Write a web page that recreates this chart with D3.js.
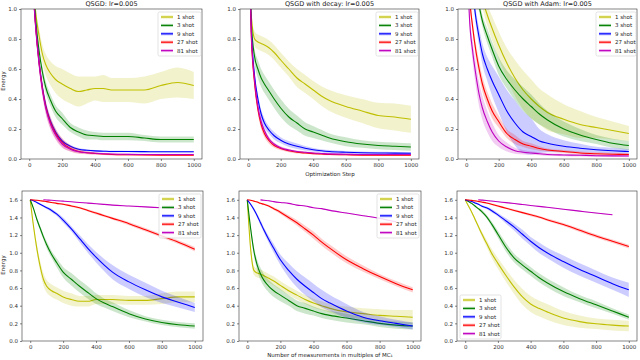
<!DOCTYPE html>
<html>
<head>
<meta charset="utf-8">
<script src="https://cdn.jsdelivr.net/npm/d3@7"></script>
<style>
  body { margin: 0; background: #fff; }
  svg { display: block; font-family: "DejaVu Sans", sans-serif; }
</style>
</head>
<body>
<svg id="chart" width="640" height="360"></svg>
<script>
// Shared x grid (optimization step / measurements)
var steps = [0, 20, 40, 60, 80, 100, 130, 160, 200, 250, 300, 350, 400, 450, 500, 600, 700, 800, 900, 1000]
var shotLabels = ['1 shot', '3 shot', '9 shot', '27 shot', '81 shot']
var shotColors = ['#bfbf00', '#008000', '#0000ff', '#ff0000', '#bf00bf']
var xTicks = [0, 200, 400, 600, 800, 1000]
var topYTicks = [0, 0.2, 0.4, 0.6, 0.8, 1.0]
var bottomYTicks = [0, 0.2, 0.4, 0.6, 0.8, 1.0, 1.2, 1.4, 1.6]
var titles = ['QSGD: lr=0.005', 'QSGD with decay: lr=0.005', 'QSGD with Adam: lr=0.005']

// Top row: energy vs optimization step (mean, half-width of band)
var qsgdStepMean = [
  [1.6, 1.25, 0.97, 0.82, 0.7, 0.63, 0.57, 0.53, 0.5, 0.47, 0.45, 0.46, 0.47, 0.47, 0.46, 0.46, 0.46, 0.49, 0.51, 0.49],
  [1.6, 1.22, 0.92, 0.72, 0.58, 0.48, 0.39, 0.32, 0.27, 0.21, 0.18, 0.16, 0.155, 0.15, 0.15, 0.15, 0.14, 0.13, 0.13, 0.13],
  [1.6, 1.2, 0.88, 0.65, 0.48, 0.36, 0.25, 0.18, 0.12, 0.085, 0.065, 0.058, 0.054, 0.052, 0.05, 0.05, 0.049, 0.048, 0.048, 0.048],
  [1.6, 1.2, 0.87, 0.64, 0.47, 0.35, 0.24, 0.17, 0.11, 0.07, 0.05, 0.042, 0.037, 0.033, 0.03, 0.028, 0.027, 0.026, 0.025, 0.025],
  [1.6, 1.19, 0.86, 0.63, 0.46, 0.34, 0.23, 0.16, 0.1, 0.065, 0.048, 0.042, 0.038, 0.035, 0.033, 0.031, 0.03, 0.03, 0.03, 0.03]
]
var qsgdStepSpread = [
  [0, 0.02, 0.03, 0.05, 0.06, 0.07, 0.08, 0.09, 0.1, 0.1, 0.1, 0.09, 0.08, 0.09, 0.08, 0.08, 0.09, 0.09, 0.1, 0.09],
  [0, 0.01, 0.02, 0.03, 0.04, 0.04, 0.04, 0.04, 0.04, 0.03, 0.03, 0.03, 0.025, 0.025, 0.025, 0.025, 0.02, 0.02, 0.02, 0.02],
  [0, 0.01, 0.02, 0.03, 0.03, 0.03, 0.025, 0.02, 0.015, 0.01, 0.008, 0.007, 0.006, 0.006, 0.006, 0.005, 0.005, 0.005, 0.005, 0.005],
  [0, 0.02, 0.03, 0.04, 0.04, 0.04, 0.04, 0.035, 0.03, 0.02, 0.015, 0.01, 0.008, 0.007, 0.006, 0.006, 0.005, 0.005, 0.005, 0.005],
  [0, 0.02, 0.03, 0.04, 0.04, 0.04, 0.035, 0.03, 0.025, 0.015, 0.01, 0.008, 0.007, 0.006, 0.006, 0.005, 0.005, 0.005, 0.005, 0.005]
]
var decayStepMean = [
  [1.6, 0.95, 0.8, 0.78, 0.77, 0.76, 0.74, 0.71, 0.66, 0.6, 0.54, 0.5, 0.46, 0.42, 0.39, 0.35, 0.32, 0.29, 0.28, 0.265],
  [1.6, 0.9, 0.68, 0.6, 0.54, 0.5, 0.45, 0.4, 0.34, 0.28, 0.24, 0.2, 0.18, 0.16, 0.14, 0.115, 0.1, 0.09, 0.085, 0.08],
  [1.6, 0.85, 0.55, 0.4, 0.3, 0.24, 0.19, 0.155, 0.125, 0.1, 0.085, 0.072, 0.062, 0.055, 0.05, 0.045, 0.042, 0.04, 0.039, 0.038],
  [1.6, 0.8, 0.5, 0.33, 0.23, 0.17, 0.12, 0.09, 0.07, 0.055, 0.045, 0.04, 0.036, 0.033, 0.03, 0.028, 0.026, 0.025, 0.025, 0.025],
  [1.6, 0.82, 0.52, 0.35, 0.25, 0.19, 0.13, 0.1, 0.075, 0.06, 0.05, 0.045, 0.04, 0.037, 0.034, 0.032, 0.03, 0.03, 0.03, 0.03]
]
var decayStepSpread = [
  [0, 0.03, 0.05, 0.05, 0.05, 0.05, 0.05, 0.05, 0.05, 0.05, 0.06, 0.06, 0.06, 0.065, 0.07, 0.075, 0.08, 0.085, 0.09, 0.09],
  [0, 0.03, 0.05, 0.06, 0.06, 0.06, 0.06, 0.06, 0.06, 0.055, 0.05, 0.045, 0.04, 0.035, 0.03, 0.03, 0.025, 0.025, 0.025, 0.025],
  [0, 0.03, 0.03, 0.03, 0.03, 0.03, 0.025, 0.025, 0.02, 0.02, 0.018, 0.015, 0.012, 0.01, 0.01, 0.008, 0.008, 0.008, 0.008, 0.008],
  [0, 0.03, 0.03, 0.03, 0.03, 0.025, 0.02, 0.015, 0.012, 0.01, 0.008, 0.007, 0.006, 0.006, 0.005, 0.005, 0.005, 0.005, 0.005, 0.005],
  [0, 0.03, 0.03, 0.03, 0.025, 0.02, 0.015, 0.012, 0.01, 0.008, 0.007, 0.006, 0.006, 0.005, 0.005, 0.005, 0.005, 0.005, 0.005, 0.005]
]
var adamStepMean = [
  [1.6, 1.5, 1.4, 1.29, 1.18, 1.07, 0.96, 0.87, 0.76, 0.64, 0.54, 0.46, 0.4, 0.35, 0.31, 0.265, 0.23, 0.21, 0.19, 0.17],
  [1.6, 1.43, 1.28, 1.14, 1.02, 0.92, 0.82, 0.73, 0.62, 0.53, 0.46, 0.4, 0.35, 0.3, 0.26, 0.2, 0.16, 0.13, 0.105, 0.09],
  [1.6, 1.35, 1.12, 0.94, 0.81, 0.7, 0.6, 0.52, 0.43, 0.32, 0.24, 0.18, 0.15, 0.12, 0.105, 0.085, 0.072, 0.062, 0.055, 0.05],
  [1.6, 1.1, 0.88, 0.72, 0.6, 0.5, 0.4, 0.32, 0.25, 0.17, 0.13, 0.1, 0.085, 0.07, 0.06, 0.05, 0.04, 0.035, 0.032, 0.03],
  [1.6, 0.95, 0.72, 0.56, 0.43, 0.34, 0.25, 0.18, 0.12, 0.08, 0.055, 0.045, 0.04, 0.035, 0.03, 0.027, 0.025, 0.022, 0.021, 0.02]
]
var adamStepSpread = [
  [0, 0.02, 0.03, 0.04, 0.05, 0.06, 0.07, 0.08, 0.09, 0.1, 0.12, 0.13, 0.13, 0.12, 0.12, 0.1, 0.09, 0.07, 0.06, 0.05],
  [0, 0.02, 0.03, 0.04, 0.04, 0.04, 0.05, 0.05, 0.06, 0.06, 0.07, 0.08, 0.08, 0.07, 0.06, 0.05, 0.04, 0.03, 0.03, 0.03],
  [0, 0.03, 0.04, 0.05, 0.06, 0.07, 0.08, 0.1, 0.12, 0.14, 0.15, 0.14, 0.12, 0.08, 0.06, 0.04, 0.03, 0.02, 0.02, 0.015],
  [0, 0.03, 0.04, 0.05, 0.05, 0.05, 0.05, 0.05, 0.04, 0.03, 0.03, 0.02, 0.02, 0.015, 0.01, 0.01, 0.01, 0.01, 0.01, 0.01],
  [0, 0.05, 0.07, 0.08, 0.08, 0.08, 0.07, 0.06, 0.04, 0.03, 0.02, 0.015, 0.012, 0.01, 0.01, 0.008, 0.008, 0.008, 0.008, 0.008]
]

// Bottom row: energy vs number of measurements (multiples of MC1)
var qsgdMeasMean = [
  [1.6, 1.3, 1.05, 0.85, 0.7, 0.62, 0.57, 0.54, 0.5, 0.47, 0.45, 0.45, 0.47, 0.47, 0.47, 0.46, 0.46, 0.48, 0.5, 0.5],
  [1.6, 1.5, 1.38, 1.28, 1.18, 1.09, 0.98, 0.89, 0.78, 0.7, 0.62, 0.55, 0.48, 0.43, 0.39, 0.31, 0.25, 0.21, 0.185, 0.17],
  [1.6, 1.59, 1.57, 1.55, 1.53, 1.51, 1.48, 1.44, 1.37, 1.27, 1.16, 1.05, 0.95, 0.86, 0.78, 0.67, 0.58, 0.5, 0.44, 0.38],
  [1.6, 1.598, 1.595, 1.59, 1.585, 1.58, 1.57, 1.56, 1.55, 1.53, 1.51, 1.48, 1.45, 1.42, 1.39, 1.33, 1.26, 1.19, 1.12, 1.04],
  [null, null, null, null, 1.6, 1.598, 1.595, 1.59, 1.585, 1.578, 1.57, 1.563, 1.556, 1.548, 1.54, 1.53, 1.52, 1.51, 1.5, null]
]
var qsgdMeasSpread = [
  [0, 0.03, 0.05, 0.06, 0.07, 0.07, 0.07, 0.07, 0.07, 0.07, 0.06, 0.06, 0.05, 0.05, 0.05, 0.05, 0.05, 0.06, 0.06, 0.06],
  [0, 0.01, 0.02, 0.03, 0.03, 0.04, 0.04, 0.05, 0.06, 0.07, 0.07, 0.07, 0.06, 0.05, 0.05, 0.04, 0.03, 0.03, 0.03, 0.03],
  [0, 0.005, 0.01, 0.01, 0.01, 0.015, 0.02, 0.02, 0.03, 0.03, 0.04, 0.05, 0.06, 0.07, 0.08, 0.08, 0.08, 0.07, 0.06, 0.05],
  [0, 0.005, 0.005, 0.005, 0.005, 0.008, 0.008, 0.01, 0.01, 0.01, 0.012, 0.012, 0.015, 0.015, 0.015, 0.018, 0.02, 0.02, 0.022, 0.025],
  [0, 0, 0, 0, 0.004, 0.004, 0.004, 0.004, 0.004, 0.004, 0.004, 0.004, 0.004, 0.004, 0.004, 0.004, 0.004, 0.004, 0.004, 0]
]
var decayMeasMean = [
  [1.6, 1.05, 0.8, 0.77, 0.76, 0.74, 0.71, 0.68, 0.63, 0.57, 0.52, 0.47, 0.43, 0.4, 0.37, 0.33, 0.31, 0.29, 0.28, 0.27],
  [1.6, 1.28, 1.02, 0.86, 0.76, 0.69, 0.62, 0.57, 0.52, 0.46, 0.4, 0.37, 0.34, 0.31, 0.29, 0.26, 0.23, 0.2, 0.18, 0.17],
  [1.6, 1.55, 1.49, 1.42, 1.34, 1.26, 1.15, 1.05, 0.92, 0.8, 0.7, 0.62, 0.55, 0.48, 0.43, 0.34, 0.27, 0.23, 0.2, 0.17],
  [1.6, 1.595, 1.585, 1.575, 1.56, 1.55, 1.53, 1.5, 1.46, 1.4, 1.34, 1.27, 1.2, 1.12, 1.05, 0.92, 0.82, 0.73, 0.65, 0.58],
  [null, null, null, null, 1.6, 1.595, 1.59, 1.58, 1.57, 1.56, 1.54, 1.53, 1.51, 1.5, 1.48, 1.45, 1.42, 1.39, 1.35, null]
]
var decayMeasSpread = [
  [0, 0.04, 0.05, 0.05, 0.05, 0.05, 0.05, 0.05, 0.05, 0.05, 0.05, 0.05, 0.05, 0.05, 0.05, 0.06, 0.06, 0.07, 0.07, 0.08],
  [0, 0.03, 0.05, 0.06, 0.07, 0.07, 0.07, 0.07, 0.07, 0.06, 0.06, 0.06, 0.05, 0.05, 0.05, 0.05, 0.04, 0.04, 0.04, 0.04],
  [0, 0.01, 0.02, 0.02, 0.03, 0.03, 0.04, 0.05, 0.06, 0.08, 0.09, 0.1, 0.1, 0.1, 0.09, 0.08, 0.06, 0.05, 0.04, 0.04],
  [0, 0.005, 0.005, 0.008, 0.01, 0.01, 0.012, 0.015, 0.02, 0.025, 0.03, 0.035, 0.04, 0.04, 0.04, 0.04, 0.035, 0.03, 0.03, 0.03],
  [0, 0, 0, 0, 0.004, 0.004, 0.004, 0.004, 0.004, 0.004, 0.004, 0.004, 0.004, 0.004, 0.004, 0.004, 0.004, 0.004, 0.004, 0]
]
var adamMeasMean = [
  [1.6, 1.53, 1.46, 1.38, 1.3, 1.22, 1.11, 1.0, 0.88, 0.74, 0.61, 0.5, 0.42, 0.37, 0.33, 0.26, 0.22, 0.195, 0.18, 0.17],
  [1.6, 1.58, 1.56, 1.53, 1.5, 1.47, 1.41, 1.33, 1.21, 1.06, 0.94, 0.86, 0.79, 0.72, 0.66, 0.56, 0.48, 0.41, 0.34, 0.27],
  [1.6, 1.59, 1.58, 1.565, 1.55, 1.53, 1.51, 1.48, 1.43, 1.36, 1.29, 1.21, 1.13, 1.06, 1.0, 0.9, 0.81, 0.73, 0.65, 0.58],
  [1.6, 1.598, 1.594, 1.588, 1.582, 1.575, 1.565, 1.55, 1.53, 1.505, 1.48, 1.455, 1.43, 1.405, 1.375, 1.32, 1.255, 1.19, 1.13, 1.07],
  [null, null, null, null, 1.6, 1.597, 1.592, 1.586, 1.578, 1.568, 1.558, 1.547, 1.536, 1.526, 1.515, 1.494, 1.472, 1.45, 1.43, null]
]
var adamMeasSpread = [
  [0, 0.01, 0.01, 0.02, 0.02, 0.03, 0.04, 0.05, 0.06, 0.07, 0.08, 0.09, 0.09, 0.09, 0.09, 0.08, 0.07, 0.06, 0.06, 0.06],
  [0, 0, 0.01, 0.01, 0.01, 0.02, 0.02, 0.03, 0.04, 0.05, 0.05, 0.05, 0.05, 0.05, 0.05, 0.05, 0.04, 0.04, 0.03, 0.03],
  [0, 0, 0.005, 0.01, 0.01, 0.01, 0.015, 0.02, 0.02, 0.03, 0.04, 0.05, 0.05, 0.06, 0.06, 0.07, 0.07, 0.07, 0.07, 0.08],
  [0, 0.003, 0.005, 0.005, 0.005, 0.008, 0.008, 0.01, 0.01, 0.01, 0.012, 0.012, 0.015, 0.015, 0.015, 0.018, 0.02, 0.02, 0.02, 0.022],
  [0, 0, 0, 0, 0.004, 0.004, 0.004, 0.004, 0.004, 0.004, 0.004, 0.004, 0.004, 0.004, 0.004, 0.004, 0.004, 0.004, 0.004, 0]
]

// Panel layout (plot area boxes and legend corners, in px)
var panels = [
  { mean: qsgdStepMean, spread: qsgdStepSpread, box: [21, 9, 202, 159], yMax: 1.0, yTicks: topYTicks, title: titles[0], legend: [158, 12, 43] },
  { mean: decayStepMean, spread: decayStepSpread, box: [240, 9, 419, 159], yMax: 1.0, yTicks: topYTicks, title: titles[1], legend: [376, 12, 42] },
  { mean: adamStepMean, spread: adamStepSpread, box: [458, 9, 637, 159], yMax: 1.0, yTicks: topYTicks, title: titles[2], legend: [596, 12, 40] },
  { mean: qsgdMeasMean, spread: qsgdMeasSpread, box: [22, 191, 203, 341], yMax: 1.7, yTicks: bottomYTicks, legend: [159, 194, 42] },
  { mean: decayMeasMean, spread: decayMeasSpread, box: [239, 191, 421, 341], yMax: 1.7, yTicks: bottomYTicks, legend: [377, 194, 42] },
  { mean: adamMeasMean, spread: adamMeasSpread, box: [457, 191, 637, 341], yMax: 1.7, yTicks: bottomYTicks, legend: [460, 295, 41] }
]

var svg = d3.select('#chart')
svg.append('rect').attr('width', 640).attr('height', 360).attr('fill', '#fff')

function drawPanel (p, idx) {
  var x0 = p.box[0], y0 = p.box[1], x1 = p.box[2], y1 = p.box[3]

  var x = d3.scaleLinear().domain([-50, 1050]).range([x0, x1])
  var y = d3.scaleLinear().domain([0, p.yMax]).range([y1, y0])

  var g = svg.append('g').attr('class', 'panel')

  var clipId = 'clip' + idx
  g.append('clipPath').attr('id', clipId)
    .append('rect')
    .attr('x', x0).attr('y', y0)
    .attr('width', x1 - x0).attr('height', y1 - y0)

  var plot = g.append('g').attr('clip-path', 'url(#' + clipId + ')')

  p.mean.forEach(function (series, s) {
    var pts = steps.map(function (d, i) {
      return { x: d, m: series[i], e: p.spread[s][i] }
    })
    var area = d3.area()
      .defined(function (d) { return d.m !== null })
      .x(function (d) { return x(d.x) })
      .y0(function (d) { return y(d.m - d.e) })
      .y1(function (d) { return y(d.m + d.e) })
      .curve(d3.curveMonotoneX)
    var line = d3.line()
      .defined(function (d) { return d.m !== null })
      .x(function (d) { return x(d.x) })
      .y(function (d) { return y(d.m) })
      .curve(d3.curveMonotoneX)

    plot.append('path').datum(pts)
      .attr('d', area)
      .attr('fill', shotColors[s])
      .attr('fill-opacity', 0.2)
    plot.append('path').datum(pts)
      .attr('d', line)
      .attr('fill', 'none')
      .attr('stroke', shotColors[s])
      .attr('stroke-width', 1.1)
  })

  // Axes
  var xAxis = g.append('g')
    .attr('transform', 'translate(0,' + y1 + ')')
    .call(d3.axisBottom(x).tickValues(xTicks).tickFormat(d3.format('d')).tickSize(2).tickPadding(2))
  var yAxis = g.append('g')
    .attr('transform', 'translate(' + x0 + ',0)')
    .call(d3.axisLeft(y).tickValues(p.yTicks).tickFormat(d3.format('.1f')).tickSize(2).tickPadding(2))

  ;[xAxis, yAxis].forEach(function (a) {
    a.select('.domain').remove()
    a.selectAll('line').attr('stroke', '#333').attr('stroke-width', 0.6)
    a.selectAll('text')
      .attr('fill', '#333')
      .style('font-size', '5.5px')
      .style('font-family', '"DejaVu Sans", sans-serif')
  })

  // Frame
  g.append('rect')
    .attr('x', x0).attr('y', y0)
    .attr('width', x1 - x0).attr('height', y1 - y0)
    .attr('fill', 'none')
    .attr('stroke', '#333')
    .attr('stroke-width', 0.6)

  if (p.title) {
    g.append('text')
      .attr('x', (x0 + x1) / 2)
      .attr('y', 6)
      .attr('text-anchor', 'middle')
      .attr('fill', '#222')
      .style('font-size', '6.5px')
      .text(p.title)
  }

  // Legend
  var lx = p.legend[0], ly = p.legend[1], lw = p.legend[2]
  var rowH = 8.4
  var leg = g.append('g')
  leg.append('rect')
    .attr('x', lx).attr('y', ly)
    .attr('width', lw).attr('height', rowH * 5 + 2)
    .attr('rx', 1.5)
    .attr('fill', '#fff').attr('fill-opacity', 0.85)
    .attr('stroke', '#d0d0d0').attr('stroke-width', 0.6)
  shotLabels.forEach(function (lab, s) {
    var cy = ly + 5 + s * rowH
    leg.append('rect')
      .attr('x', lx + 3).attr('y', cy - 1.5)
      .attr('width', 12).attr('height', 3)
      .attr('fill', shotColors[s]).attr('fill-opacity', 0.3)
    leg.append('line')
      .attr('x1', lx + 3).attr('x2', lx + 15)
      .attr('y1', cy).attr('y2', cy)
      .attr('stroke', shotColors[s]).attr('stroke-width', 1.1)
    leg.append('text')
      .attr('x', lx + 19).attr('y', cy + 2)
      .attr('fill', '#222')
      .style('font-size', '5.5px')
      .text(lab)
  })
}

panels.forEach(drawPanel)

// Axis labels
svg.append('text')
  .attr('transform', 'translate(5,81) rotate(-90)')
  .attr('text-anchor', 'middle').attr('fill', '#222')
  .style('font-size', '5.5px').text('Energy')
svg.append('text')
  .attr('transform', 'translate(5,265) rotate(-90)')
  .attr('text-anchor', 'middle').attr('fill', '#222')
  .style('font-size', '5.5px').text('Energy')
svg.append('text')
  .attr('x', 330).attr('y', 176)
  .attr('text-anchor', 'middle').attr('fill', '#222')
  .style('font-size', '5.5px').text('Optimization Step')
svg.append('text')
  .attr('x', 330).attr('y', 357)
  .attr('text-anchor', 'middle').attr('fill', '#222')
  .style('font-size', '5.5px').text('Number of measurements in multiples of MC\u2081')
</script>
</body>
</html>
